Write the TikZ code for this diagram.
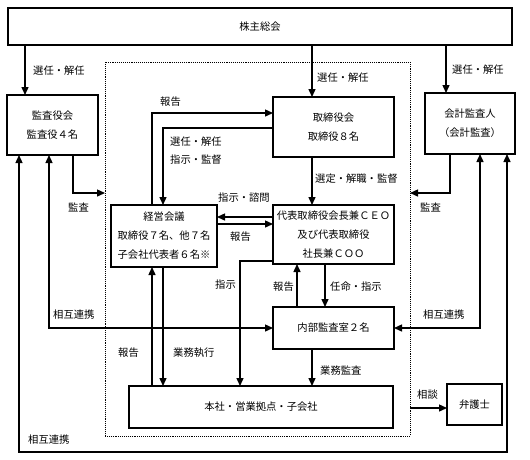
\documentclass[tikz,border=0pt]{standalone}
\usepackage{fontspec}
\setmainfont{Noto Sans CJK JP}
\usetikzlibrary{arrows.meta}

\begin{document}
\begin{tikzpicture}[x=1pt,y=-1pt,
    font=\fontsize{10.3}{19}\selectfont,
    box/.style={draw,line width=1.5pt,inner sep=0pt,outer sep=0pt,align=center},
    arr/.style={line width=1.4pt,-{Triangle[length=8pt,width=7pt]}},
    darr/.style={line width=1.4pt,{Triangle[length=8pt,width=7pt]}-{Triangle[length=8pt,width=7pt]}},
    lbl/.style={anchor=west,inner sep=0pt}]
  \useasboundingbox (0,0) rectangle (530,459);

  \node[draw,densely dotted,line width=0.9pt,minimum width=305,minimum height=374,outer sep=0pt] (group) at (257.5,249) {};

  \node[box,minimum width=504,minimum height=37] (soukai) at (260,26.5) {株主総会};
  \node[box,minimum width=91,minimum height=60] (kansayaku) at (52.5,125) {監査役会\\監査役４名};
  \node[box,minimum width=121,minimum height=60] (torishimari) at (333.5,127) {取締役会\\取締役８名};
  \node[box,minimum width=90,minimum height=61] (kaikei) at (470,123.5) {会計監査人\\（会計監査）};
  \node[box,minimum width=106,minimum height=62] (keiei) at (164,236) {経営会議\\取締役７名、他７名\\子会社代表者６名※};
  \node[box,minimum width=121,minimum height=59] (ceo) at (333.5,234.5) {代表取締役会長兼ＣＥＯ\\及び代表取締役\\社長兼ＣＯＯ};
  \node[box,minimum width=121,minimum height=42] (naibu) at (333.5,328) {内部監査室２名};
  \node[box,minimum width=264,minimum height=42] (honsha) at (261,407) {本社・営業拠点・子会社};
  \node[box,minimum width=55,minimum height=41] (bengoshi) at (474.5,404.5) {弁護士};

  \coordinate (xA) at (25,0);
  \coordinate (xB) at (312,0);
  \coordinate (xC) at (446,0);
  \coordinate (xD) at (152,0);
  \coordinate (xE) at (163,0);
  \coordinate (xF) at (73,0);
  \coordinate (xG) at (450,0);
  \coordinate (xH) at (240,0);
  \coordinate (xI) at (297,0);
  \coordinate (xJ) at (325,0);
  \coordinate (xK) at (49,0);
  \coordinate (xL) at (480,0);
  \coordinate (xM) at (19,0);
  \coordinate (xN) at (507,0);
  \coordinate (y1) at (0,113);
  \coordinate (y2) at (0,128);
  \coordinate (y3) at (0,193);
  \coordinate (y4) at (0,217);
  \coordinate (y5) at (0,224);
  \coordinate (y6) at (0,261);
  \coordinate (y7) at (0,328);
  \coordinate (y8) at (0,452);
  \coordinate (y9) at (0,408);

  \draw[arr] (soukai.south -| xA) -- (kansayaku.north -| xA);
  \draw[arr] (soukai.south -| xB) -- (torishimari.north -| xB);
  \draw[arr] (soukai.south -| xC) -- (kaikei.north -| xC);
  \draw[arr] (keiei.north -| xD) |- (torishimari.west |- y1);
  \draw[arr] (torishimari.west |- y2) -| (keiei.north -| xE);
  \draw[arr] (torishimari.south -| xB) -- (ceo.north -| xB);
  \draw[arr] (ceo.west |- y4) -- (keiei.east |- y4);
  \draw[arr] (keiei.east |- y5) -- (ceo.west |- y5);
  \draw[arr] (kansayaku.south -| xF) |- (group.west |- y3);
  \draw[arr] (kaikei.south -| xG) |- (group.east |- y3);
  \draw[arr] (ceo.west |- y6) -| (honsha.north -| xH);
  \draw[arr] (ceo.south -| xJ) -- (naibu.north -| xJ);
  \draw[arr] (naibu.north -| xI) -- (ceo.south -| xI);
  \draw[arr] (naibu.south -| xB) -- (honsha.north -| xB);
  \draw[arr] (honsha.north -| xD) -- (keiei.south -| xD);
  \draw[arr] (keiei.south -| xE) -- (honsha.north -| xE);
  \draw[darr] (kansayaku.south -| xK) |- (naibu.west |- y7);
  \draw[darr] (kaikei.south -| xL) |- (naibu.east |- y7);
  \draw[darr] (kansayaku.south -| xM) -- (xM |- y8) -- (xN |- y8) -- (kaikei.south -| xN);
  \draw[arr] (group.east |- y9) -- (bengoshi.west |- y9);

  \node[lbl] (l1) at (33,71) {選任・解任};
  \node[lbl] (l2) at (317,78) {選任・解任};
  \node[lbl] (l3) at (452,70) {選任・解任};
  \node[lbl] (l4) at (160,102) {報告};
  \node[lbl] (l5) at (170,142) {選任・解任};
  \node[lbl] (l6) at (170,160) {指示・監督};
  \node[lbl] (l7) at (315,179) {選定・解職・監督};
  \node[lbl] (l8) at (218,198) {指示・諮問};
  \node[lbl] (l9) at (230,237) {報告};
  \node[lbl] (l10) at (68,207) {監査};
  \node[lbl] (l11) at (420,207) {監査};
  \node[lbl] (l12) at (215,285) {指示};
  \node[lbl] (l13) at (273,287) {報告};
  \node[lbl] (l14) at (330,287) {任命・指示};
  \node[lbl] (l15) at (53,315) {相互連携};
  \node[lbl] (l16) at (423,315) {相互連携};
  \node[lbl] (l17) at (118,353) {報告};
  \node[lbl] (l18) at (173,353) {業務執行};
  \node[lbl] (l19) at (320,371) {業務監査};
  \node[lbl] (l20) at (417,395) {相談};
  \node[lbl] (l21) at (28,440) {相互連携};
\end{tikzpicture}
\end{document}
